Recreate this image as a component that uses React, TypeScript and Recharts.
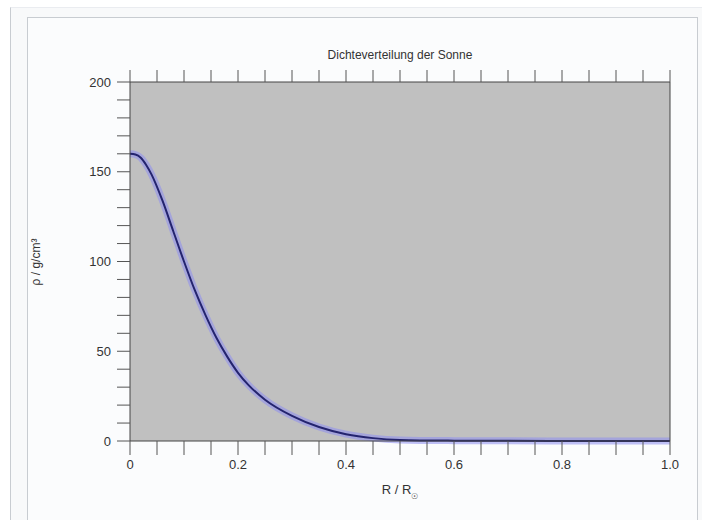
import React from "react";
import { LineChart, Line, XAxis, YAxis, CartesianGrid } from "recharts";

const rValues = [0, 0.01, 0.02, 0.03, 0.04, 0.06, 0.08, 0.1, 0.12, 0.14, 0.16, 0.18, 0.2, 0.22, 0.25, 0.3, 0.35, 0.4, 0.45, 0.5, 0.6, 0.7, 0.8, 0.9, 1.0];
const rhoValues = [160, 159.6, 157.8, 153.8, 148.4, 134, 117, 100, 84, 70, 57.5, 47, 38, 31, 23, 14, 7.8, 3.8, 1.6, 0.6, 0.2, 0.08, 0.04, 0.02, 0];

const xTicks = [0, 0.05, 0.1, 0.15, 0.2, 0.25, 0.3, 0.35, 0.4, 0.45, 0.5, 0.55, 0.6, 0.65, 0.7, 0.75, 0.8, 0.85, 0.9, 0.95, 1.0];
const xLabelTicks = ["0", "0.2", "0.4", "0.6", "0.8", "1.0"];
const yTicks = [0, 10, 20, 30, 40, 50, 60, 70, 80, 90, 100, 110, 120, 130, 140, 150, 160, 170, 180, 190, 200];
const yLabelTicks = ["0", "50", "100", "150", "200"];

const title = "Dichteverteilung der Sonne";

const data = rValues.map((r, i) => ({ r, rho: rhoValues[i] }));

const FONT = "'Liberation Sans', Arial, sans-serif";
const TXT = "#333";
const AX = "#444";

const fmtX = (v: number) => {
  const s = v === 1 ? "1.0" : v === 0 ? "0" : String(Math.round(v * 10) / 10);
  return s;
};

const XTick = (props: any) => {
  const { x, y, payload } = props;
  const s = fmtX(payload.value);
  const isMajor = Math.abs(Math.round(payload.value * 5) - payload.value * 5) < 1e-6;
  if (!isMajor || !xLabelTicks.includes(s)) return <g />;
  return (
    <text x={x} y={y} textAnchor="middle" dy="0.71em" fill={TXT} fontSize={13} fontFamily={FONT}>
      {s}
    </text>
  );
};

const YTick = (props: any) => {
  const { x, y, payload } = props;
  const s = String(payload.value);
  if (!yLabelTicks.includes(s)) return <g />;
  return (
    <text x={x} y={y} textAnchor="end" dy="0.35em" fill={TXT} fontSize={13} fontFamily={FONT}>
      {s}
    </text>
  );
};

const Empty = () => <g />;

const XTitle = (props: any) => {
  const vb = props.viewBox;
  const cx = vb.x + vb.width / 2;
  return (
    <text x={cx} y={494} textAnchor="middle" fill={TXT} fontSize={13} fontFamily={FONT}>
      R / R
      <tspan fontSize={8} dy={5}>☉</tspan>
    </text>
  );
};

const TopTitle = (props: any) => {
  const vb = props.viewBox;
  const cx = vb.x + vb.width / 2;
  return (
    <text x={cx} y={59} textAnchor="middle" fill={TXT} fontSize={12} fontFamily={FONT}>
      {title}
    </text>
  );
};

const YTitle = () => (
  <text
    x={40}
    y={262}
    transform="rotate(-90 40 262)"
    textAnchor="middle"
    fill={TXT}
    fontSize={12}
    fontFamily={FONT}
  >
    ρ / g/cm³
  </text>
);

export default function App() {
  return (
    <div style={{ position: "absolute", left: 0, top: 0, width: 702, height: 520, background: "#ffffff", overflow: "hidden" }}>
      <div
        style={{
          position: "absolute",
          left: 10,
          top: 7,
          width: 720,
          height: 560,
          borderLeft: "1px solid #c8ccd1",
          borderTop: "1px solid #eaecf0",
          background: "#f8f9fa",
        }}
      />
      <div
        style={{
          position: "absolute",
          left: 27,
          top: 17,
          width: 669,
          height: 560,
          border: "1px solid #c8ccd1",
          background: "#fbfcfd",
        }}
      />
      <div style={{ position: "absolute", left: 0, top: 0 }}>
        <LineChart width={702} height={520} data={data} margin={{ top: 0, right: 0, bottom: 0, left: 0 }}>
          <CartesianGrid fill="#c0c0c0" stroke="none" horizontal={false} vertical={false} />
          <XAxis
            dataKey="r"
            type="number"
            domain={[0, 1]}
            ticks={xTicks}
            interval={0}
            height={79}
            tickSize={14}
            tickMargin={5}
            tick={<XTick />}
            stroke={AX}
            tickLine={{ stroke: "#555" }}
            label={{ content: <XTitle /> }}
          />
          <XAxis
            xAxisId="top"
            dataKey="r"
            type="number"
            orientation="top"
            domain={[0, 1]}
            ticks={xTicks}
            interval={0}
            height={82}
            tickSize={12}
            tick={<Empty />}
            stroke={AX}
            tickLine={{ stroke: "#555" }}
            label={{ content: <TopTitle /> }}
          />
          <YAxis
            type="number"
            domain={[0, 200]}
            ticks={yTicks}
            interval={0}
            width={130}
            tickSize={13}
            tickMargin={6}
            tick={<YTick />}
            stroke={AX}
            tickLine={{ stroke: "#555" }}
            label={{ content: <YTitle /> }}
          />
          <YAxis
            yAxisId="right"
            orientation="right"
            type="number"
            domain={[0, 200]}
            ticks={yTicks}
            interval={0}
            width={32}
            tickSize={14}
            tick={<Empty />}
            stroke={AX}
            tickLine={{ stroke: "#555" }}
          />
          <Line
            dataKey="rho"
            type="monotone"
            dot={false}
            stroke="#8c8cf0"
            strokeWidth={7}
            strokeOpacity={0.55}
            isAnimationActive={false}
          />
          <Line
            dataKey="rho"
            type="monotone"
            dot={false}
            stroke="#24246e"
            strokeWidth={2}
            isAnimationActive={false}
          />
        </LineChart>
      </div>
    </div>
  );
}
